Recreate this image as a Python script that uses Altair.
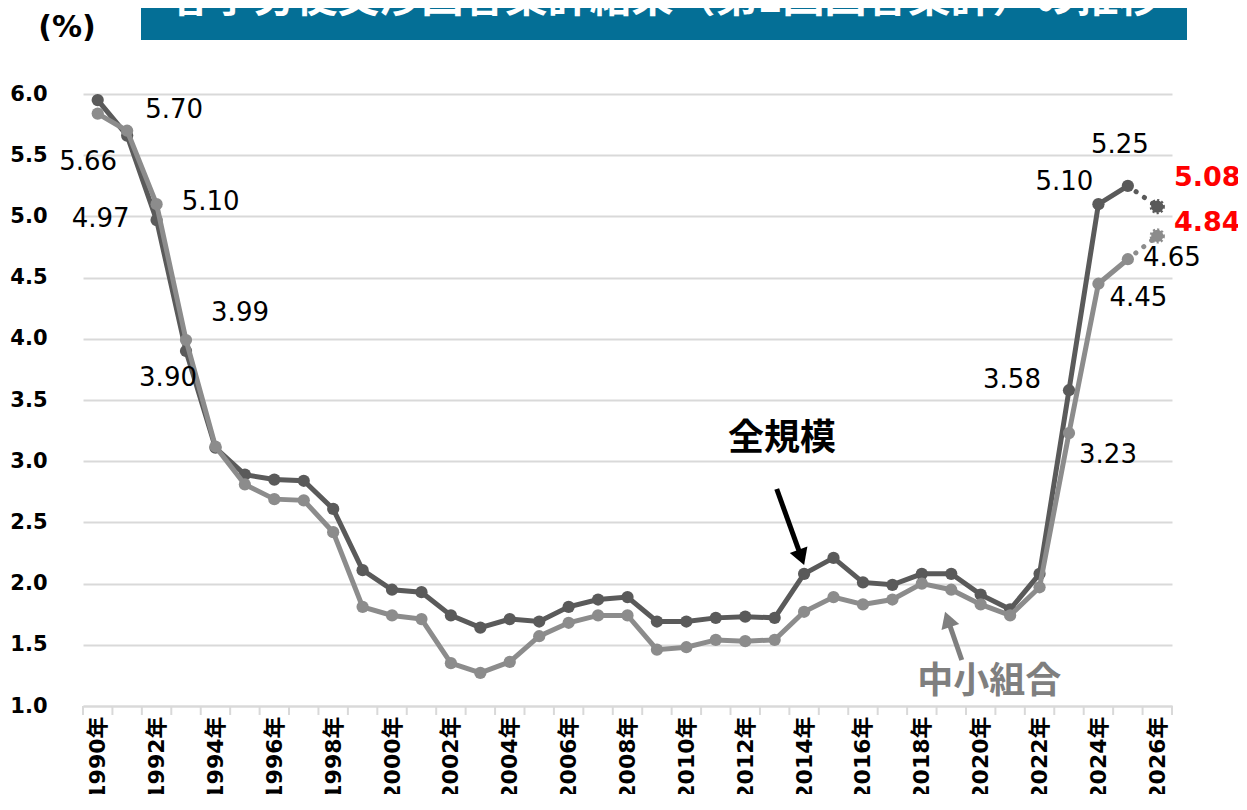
import altair as alt
import pandas as pd

# ---------------- data ----------------
TITLE = "春季労使交渉回答集計結果（第1回回答集計）の推移"
SERIES = ["全規模", "中小組合"]
YEARS = list(range(1990, 2026))
ZENKIBO = [5.95, 5.66, 4.97, 3.90, 3.11, 2.89, 2.85, 2.84, 2.61, 2.11,
           1.95, 1.93, 1.74, 1.64, 1.71, 1.69, 1.81, 1.87, 1.89, 1.69,
           1.69, 1.72, 1.73, 1.72, 2.08, 2.21, 2.01, 1.99, 2.08, 2.08,
           1.91, 1.79, 2.08, 3.58, 5.10, 5.25]
CHUSHO = [5.84, 5.70, 5.10, 3.99, 3.12, 2.81, 2.69, 2.68, 2.42, 1.81,
          1.74, 1.71, 1.35, 1.27, 1.36, 1.57, 1.68, 1.74, 1.74, 1.46,
          1.48, 1.54, 1.53, 1.54, 1.77, 1.89, 1.83, 1.87, 2.00, 1.95,
          1.83, 1.74, 1.97, 3.23, 4.45, 4.65]
FORECAST_YEAR = 2026
ZENKIBO_FORECAST = 5.08
CHUSHO_FORECAST = 4.84
Y_TICKS = [1.0, 1.5, 2.0, 2.5, 3.0, 3.5, 4.0, 4.5, 5.0, 5.5, 6.0]
X_LABEL_YEARS = list(range(1990, 2027, 2))
UNIT = "(%)"

# ---------------- layout / style ----------------
W, H = 1089, 612
DARK = "#5a5a5a"
LIGHT = "#8c8c8c"
BANNER = "#046f96"
JP = "Noto Sans CJK JP"
NUM = "DejaVu Sans, Noto Sans CJK JP"
GRID = "#d9d9d9"

# label offsets in pixels: (series, year, dx, dy)
LABEL_LAYOUT = [
    ("中小組合", 1991, 47, -21),
    ("全規模", 1991, -39, 26),
    ("中小組合", 1992, 54, -2),
    ("全規模", 1992, -56, -1),
    ("中小組合", 1993, 54, -27),
    ("全規模", 1993, -18, 27),
    ("全規模", 2023, -57, -10),
    ("中小組合", 2023, 39, 22),
    ("全規模", 2024, -34, -22),
    ("全規模", 2025, -8, -41),
    ("中小組合", 2024, 40, 14),
    ("中小組合", 2025, 44, -1),
]
FORECAST_LAYOUT = [("全規模", 50, -29), ("中小組合", 50, -13)]

n = len(YEARS)
actual = pd.DataFrame({
    "year": YEARS * 2,
    "value": ZENKIBO + CHUSHO,
    "series": [SERIES[0]] * n + [SERIES[1]] * n,
})
forecast = pd.DataFrame({
    "year": [YEARS[-1], FORECAST_YEAR, YEARS[-1], FORECAST_YEAR],
    "value": [ZENKIBO[-1], ZENKIBO_FORECAST, CHUSHO[-1], CHUSHO_FORECAST],
    "series": [SERIES[0], SERIES[0], SERIES[1], SERIES[1]],
})
all_years = YEARS + [FORECAST_YEAR]
ticks_df = pd.DataFrame({"year": [y - 0.5 for y in all_years] + [all_years[-1] + 0.5]})

X = alt.X("year:Q",
          scale=alt.Scale(domain=[all_years[0] - 0.5, all_years[-1] + 0.5], nice=False, zero=False),
          axis=alt.Axis(values=X_LABEL_YEARS, labelExpr="datum.value + '年'", labelAngle=270,
                        labelAlign="right", labelBaseline="middle", labelFont=NUM,
                        labelFontSize=22, labelFontWeight="bold", labelColor="black",
                        labelPadding=10, ticks=False, grid=False, domainColor=GRID,
                        domainWidth=2, title=None, labelOverlap=False))
Y = alt.Y("value:Q",
          scale=alt.Scale(domain=[1, 6], nice=False, zero=False),
          axis=alt.Axis(values=Y_TICKS, format=".1f", labelFont=NUM, labelFontSize=21,
                        labelFontWeight="bold", labelColor="black", labelPadding=36,
                        ticks=False, domain=False, grid=True, gridColor=GRID, gridWidth=2,
                        title=None))

layers = []

# x-axis tick marks at category boundaries
layers.append(alt.Chart(ticks_df).mark_rule(color=GRID, strokeWidth=2).encode(
    x=X, y=alt.value(H), y2=alt.value(H + 9)))

# title banner (its text runs off the top edge, as in the source image)
one = pd.DataFrame({"t": [TITLE]})
layers.append(alt.Chart(one).mark_rect(color=BANNER).encode(
    x=alt.value(58), x2=alt.value(1104), y=alt.value(-94), y2=alt.value(-54)))
layers.append(alt.Chart(one).mark_text(font=JP, fontSize=42, fontWeight="bold", color="white",
                                       align="center", baseline="alphabetic").encode(
    text="t:N", x=alt.value(582), y=alt.value(-82)))
layers.append(alt.Chart(pd.DataFrame({"t": [UNIT]})).mark_text(
    font=NUM, fontSize=30, fontWeight="bold", color="black", align="center", baseline="middle").encode(
    text="t:N", x=alt.value(-16), y=alt.value(-66)))

# series lines and markers
for name, color in [(SERIES[0], DARK), (SERIES[1], LIGHT)]:
    base = alt.Chart(actual).transform_filter(alt.datum.series == name)
    layers.append(base.mark_line(color=color, strokeWidth=5).encode(x=X, y=Y))
    layers.append(base.mark_circle(color=color, size=150, opacity=1).encode(x=X, y=Y))
    fbase = alt.Chart(forecast).transform_filter(alt.datum.series == name)
    layers.append(fbase.mark_line(color=color, strokeWidth=5, strokeDash=[0.1, 10],
                                  strokeCap="round").encode(x=X, y=Y))
    layers.append(fbase.transform_filter(alt.datum.year == FORECAST_YEAR).mark_point(
        shape="circle", filled=True, fill=color, stroke=color, strokeWidth=3,
        strokeDash=[2, 2], size=150, opacity=1).encode(x=X, y=Y))

# data labels
for s, yr, dx, dy in LABEL_LAYOUT:
    layers.append(alt.Chart(actual).transform_filter(
        (alt.datum.series == s) & (alt.datum.year == yr)).mark_text(
        font=NUM, fontSize=26, color="black", dx=dx, dy=dy, align="center", baseline="middle").encode(
        x=X, y=Y, text=alt.Text("value:Q", format=".2f")))
for s, dx, dy in FORECAST_LAYOUT:
    layers.append(alt.Chart(forecast).transform_filter(
        (alt.datum.series == s) & (alt.datum.year == FORECAST_YEAR)).mark_text(
        font=NUM, fontSize=27, fontWeight="bold", color="#ff0000", dx=dx, dy=dy,
        align="center", baseline="middle").encode(
        x=X, y=Y, text=alt.Text("value:Q", format=".2f")))

# annotations
ann_text = pd.DataFrame({"year": [2013.25, 2020.29], "value": [3.18, 1.20],
                         "label": [SERIES[0], SERIES[1]], "c": ["black", "#7f7f7f"]})
for i in range(2):
    layers.append(alt.Chart(ann_text.iloc[[i]]).mark_text(
        font=JP, fontSize=36, fontWeight="bold", color=ann_text["c"][i],
        align="center", baseline="middle").encode(x=X, y=Y, text="label:N"))

arrows = [
    # start (year, value) -> head centre (year, value), colour, shape, angle
    (2013.07, 2.773, 2013.907, 2.214, "black", "triangle-down", 340),
    (2019.357, 1.376, 2018.88, 1.708, "#7f7f7f", "triangle-up", 341),
]
for x0, y0, x1, y1, c, shp, ang in arrows:
    df = pd.DataFrame({"year": [x0], "value": [y0], "year2": [x1], "value2": [y1]})
    layers.append(alt.Chart(df).mark_rule(color=c, strokeWidth=5).encode(
        x=X, y=Y, x2="year2:Q", y2="value2:Q"))
    layers.append(alt.Chart(pd.DataFrame({"year": [x1], "value": [y1]})).mark_point(
        shape=shp, filled=True, color=c, size=350, angle=ang, opacity=1).encode(x=X, y=Y))

chart = alt.layer(*layers).properties(
    width=W, height=H,
    autosize=alt.AutoSizeParams(type="none"),
    padding={"left": 75, "top": 86, "right": 66, "bottom": 88},
    background="white",
).configure_view(stroke=None)

chart.save("out.html", embed_options={"renderer": "svg", "actions": False})
